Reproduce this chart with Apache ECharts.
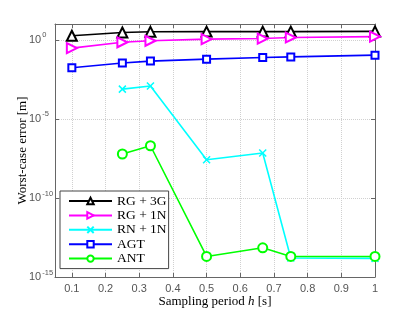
<!DOCTYPE html>
<html><head><meta charset="utf-8">
<script src="https://cdn.jsdelivr.net/npm/echarts@6/dist/echarts.min.js"></script>
<style>html,body{margin:0;padding:0;background:#fff}#c{width:415px;height:313px}</style>
</head><body><div id="c"></div>
<script>
const periods = [0.1, 0.25, 1/3, 0.5, 2/3, 0.75, 1];
const rg3g = [1.8, 2.9, 3.2, 3.3, 3.3, 3.3, 3.4];
const rg1n = [0.3, 0.7, 0.87, 1.1, 1.2, 1.4, 1.6];
const rn1nPeriods = [0.25, 1/3, 0.5, 2/3, 0.75, 1];
const rn1n = [7.6e-4, 1.2e-3, 2.6e-8, 7e-8, 1.6e-14, 1.5e-14];
const agt = [0.017, 0.034, 0.045, 0.06, 0.076, 0.083, 0.107];
const antPeriods = [0.25, 1/3, 0.5, 2/3, 0.75, 1];
const ant = [6e-8, 2e-7, 2e-14, 7e-14, 2e-14, 2e-14];
const xTicks = [0.1, 0.2, 0.3, 0.4, 0.5, 0.6, 0.7, 0.8, 0.9, 1];
const yTickExps = [-15, -10, -5, 0];

const pairs = (xs, ys) => xs.map((x, i) => [x, ys[i]]);
const serif = 'Liberation Serif';
const sans = 'Liberation Sans';

function mk(name, xs, ys, color, symbol, size, rot) {
  return {
    name, type: 'line', data: pairs(xs, ys),
    symbol, symbolSize: size, symbolRotate: rot || 0,
    lineStyle: {color, width: 1.6},
    itemStyle: {color, borderColor: color, borderWidth: 1.5},
    emphasis: {disabled: true}, animation: false
  };
}

const chart = echarts.init(document.getElementById('c'));
chart.setOption({
  backgroundColor: '#fff',
  animation: false,
  grid: {left: 55, right: 40, top: 24, bottom: 36, show: false, containLabel: false, outerBoundsMode: 'none'},
  legend: {
    orient: 'vertical', left: 60, top: 191,
    padding: [3, 2, 3, 8], itemGap: 0.4, itemWidth: 43, itemHeight: 8,
    backgroundColor: '#fff', borderColor: '#444', borderWidth: 1,
    textStyle: {fontFamily: serif, fontSize: 13.5, color: '#000', lineHeight: 14},
    data: ['RG + 3G', 'RG + 1N', 'RN + 1N', 'AGT', 'ANT']
  },
  xAxis: [{
    type: 'value', min: 0.05, max: 1,
    name: 'Sampling period {i|h} [s]', nameLocation: 'middle', nameGap: 18.5, nameMoveOverlap: false,
    nameTextStyle: {fontFamily: serif, fontSize: 13, color: '#000',
      rich: {i: {fontFamily: serif, fontStyle: 'italic', fontSize: 13}}},
    axisLine: {show: true, onZero: false, lineStyle: {color: '#666'}},
    axisTick: {show: true, inside: true, length: 4, customValues: xTicks, lineStyle: {color: '#666'}},
    axisLabel: {customValues: xTicks, fontFamily: sans, fontSize: 11, color: '#555', margin: 6},
    splitLine: {show: true, lineStyle: {color: '#d0d0d0', type: 'dotted'}}
  }, {
    type: 'value', min: 0.05, max: 1, position: 'top',
    axisLine: {show: true, onZero: false, lineStyle: {color: '#666'}},
    axisTick: {show: true, inside: true, length: 4, customValues: xTicks, lineStyle: {color: '#666'}},
    axisLabel: {show: false}, splitLine: {show: false}
  }],
  yAxis: [{
    type: 'log', logBase: 10, min: 1e-15, max: 1e1, interval: 5,
    name: 'Worst-case error [m]', nameLocation: 'middle', nameGap: 26, nameMoveOverlap: false,
    nameTextStyle: {fontFamily: serif, fontSize: 13, color: '#000'},
    axisLine: {show: true, lineStyle: {color: '#666'}},
    axisTick: {show: true, inside: true, length: 4, lineStyle: {color: '#666'}},
    axisLabel: {
      fontFamily: sans, fontSize: 11, color: '#555', margin: 26, align: 'left',
      formatter: v => {
        const e = Math.round(Math.log10(v));
        if (yTickExps.indexOf(e) < 0) return '';
        return '10{s|' + e + '}';
      },
      rich: {s: {fontFamily: sans, fontSize: 7.5, color: '#555', verticalAlign: 'top', padding: [0, 0, 9, 1]}}
    },
    splitLine: {show: true, lineStyle: {color: '#d0d0d0', type: 'dotted'}}
  }, {
    type: 'log', logBase: 10, min: 1e-15, max: 1e1, interval: 5, position: 'right',
    axisLine: {show: true, lineStyle: {color: '#666'}},
    axisTick: {show: true, inside: true, length: 4, lineStyle: {color: '#666'}},
    axisLabel: {show: false}, splitLine: {show: false}
  }],
  series: [
    mk('RG + 3G', periods, rg3g, '#000000', 'emptyTriangle', 10),
    mk('RG + 1N', periods, rg1n, '#ff00ff', 'emptyTriangle', 10, -90),
    mk('RN + 1N', rn1nPeriods, rn1n, '#00ffff', 'path://M0,0L10,10M10,0L0,10', 7),
    mk('AGT', periods, agt, '#0000ff', 'emptyRect', 7),
    mk('ANT', antPeriods, ant, '#00ff00', 'emptyCircle', 9)
  ]
});
</script>
</body></html>
